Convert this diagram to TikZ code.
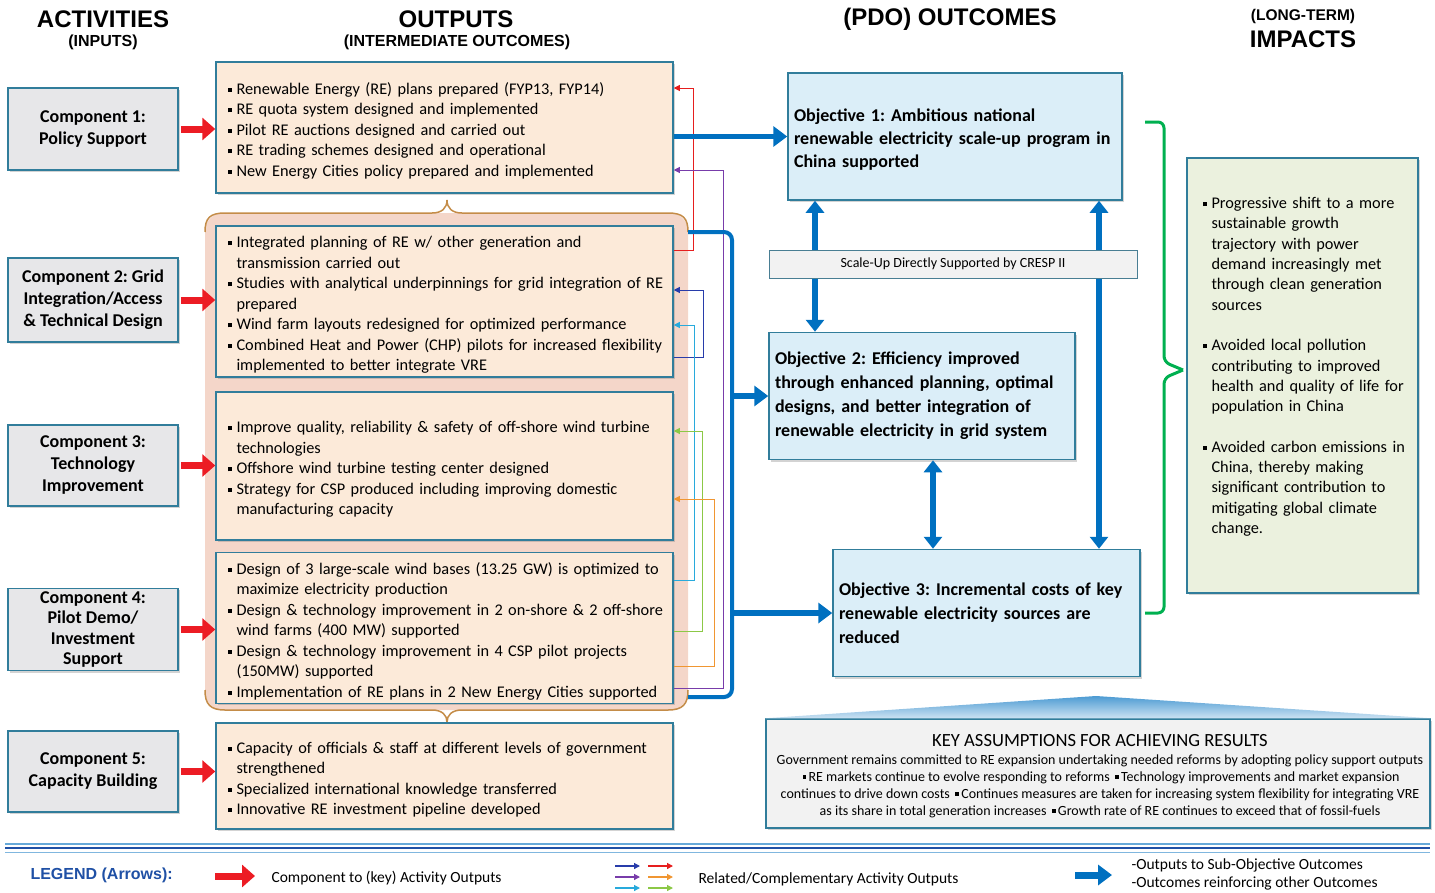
\documentclass[tikz,border=0pt]{standalone}
\usepackage{fontspec}
\setmainfont{Carlito}
\newfontfamily\headfont{Liberation Sans}
\newfontfamily\outfont{Carlito}[WordSpace=1.7]
\usetikzlibrary{arrows.meta,shadows,positioning,calc}

\definecolor{boxline}{RGB}{49,125,155}
\definecolor{compfill}{RGB}{231,231,233}
\definecolor{outfill}{RGB}{252,234,217}
\definecolor{grpfill}{RGB}{244,214,201}
\definecolor{bracebrown}{RGB}{196,140,72}
\definecolor{objfill}{RGB}{219,238,248}
\definecolor{mainblue}{RGB}{0,112,192}
\definecolor{arrred}{RGB}{236,28,36}
\definecolor{impfill}{RGB}{235,241,222}
\definecolor{bracegreen}{RGB}{0,176,80}
\definecolor{asmfill}{RGB}{242,242,242}
\definecolor{legblue}{RGB}{31,80,165}
\definecolor{lnkred}{RGB}{230,30,30}
\definecolor{lnkpurple}{RGB}{120,60,170}
\definecolor{lnknavy}{RGB}{40,60,170}
\definecolor{lnkcyan}{RGB}{40,170,220}
\definecolor{lnkgreen}{RGB}{140,200,70}
\definecolor{lnkorange}{RGB}{240,150,50}

\newcommand{\outitem}[1]{\hspace*{8pt}\makebox[9pt][l]{\rule[2.5pt]{4pt}{4pt}}#1}
\newcommand{\outcont}[1]{\hspace*{17pt}#1}
\newcommand{\firstln}{\rule{0pt}{18.5pt}}
\newcommand{\sqb}{\,\rule[2.5pt]{3.5pt}{3.5pt}\,}
\frenchspacing

\begin{document}
\begin{tikzpicture}
  [x=1pt,y=-1pt,
   boxshadow/.style={drop shadow={opacity=0.35,shadow xshift=2pt,shadow yshift=-2pt}},
   comp/.style={draw=boxline,line width=1.5pt,fill=compfill,boxshadow,minimum width=170pt,align=center,font=\bfseries\fontsize{18}{22}\selectfont},
   outbox/.style={draw=boxline,line width=1.5pt,fill=outfill,boxshadow,align=left,text width=450pt,inner xsep=3.5pt,font=\outfont\fontsize{16.3}{20.5}\selectfont},
   objbox/.style={draw=boxline,line width=1.5pt,fill=objfill,boxshadow,align=left,inner xsep=6pt,minimum height=127pt,font=\bfseries\fontsize{18}{24}\selectfont},
   head/.style={font=\headfont\bfseries\fontsize{24}{24}\selectfont},
   subhead/.style={font=\headfont\bfseries\fontsize{16}{16}\selectfont},
   redarr/.style={draw=arrred,line width=7pt,-{Triangle[length=13pt,width=22pt]}},
   bluearr/.style={draw=mainblue,line width=5.5pt,-{Triangle[length=14pt,width=20pt]}},
   dblarr/.style={draw=mainblue,line width=5.5pt,{Triangle[length=12pt,width=18pt]}-{Triangle[length=12pt,width=18pt]}},
   lnk/.style={line width=0.9pt,-{Triangle[length=6pt,width=6pt]}}]

  \useasboundingbox (0,0) rectangle (1435,892);

  % headings
  \node[head] (hAct) at (103,19) {ACTIVITIES};
  \node[subhead] (hIn) at (103,42) {(INPUTS)};
  \node[head] (hOut) at (456,19) {OUTPUTS};
  \node[subhead] (hInt) at (457,42) {(INTERMEDIATE OUTCOMES)};
  \node[head] (hPdo) at (950,19) {(PDO) OUTCOMES};
  \node[subhead,font=\headfont\bfseries\fontsize{15.5}{15.5}\selectfont] (hLt) at (1303,16) {(LONG-TERM)};
  \node[head] (hImp) at (1303,39) {IMPACTS};

  % group behind outputs 2-4
  \node[fill=grpfill,rounded corners=18pt,minimum width=483pt,minimum height=497pt] (G) at (446.5,461.5) {};
  \draw[bracebrown,line width=1.5pt] (205,232) .. controls (205,218) and (210,213) .. (225,213) -- (432,213)
    .. controls (442,213) and (447,208) .. (447,200) .. controls (447,208) and (452,213) .. (462,213)
    -- (668,213) .. controls (683,213) and (688,218) .. (688,232);
  \draw[bracebrown,line width=1.5pt] (205,690) .. controls (205,704) and (210,710) .. (225,710) -- (432,710)
    .. controls (442,710) and (447,715) .. (447,722) .. controls (447,715) and (452,710) .. (462,710)
    -- (668,710) .. controls (683,710) and (688,704) .. (688,690);

  % outputs
  \node[outbox,minimum height=131pt] (O1) at (444.5,127.5) {%
    \firstln\outitem{Renewable Energy (RE) plans prepared (FYP13, FYP14)}\\
    \outitem{RE quota system designed and implemented}\\
    \outitem{Pilot RE auctions designed and carried out}\\
    \outitem{RE trading schemes designed and operational}\\
    \outitem{New Energy Cities policy prepared and implemented}};
  \node[outbox,minimum height=141pt] (O2) at (444.5,301.5) {%
    \firstln\outitem{Integrated planning of RE w/ other generation and}\\
    \outcont{transmission carried out}\\
    \outitem{Studies with analytical underpinnings for grid integration of RE}\\
    \outcont{prepared}\\
    \outitem{Wind farm layouts redesigned for optimized performance}\\
    \outitem{Combined Heat and Power (CHP) pilots for increased flexibility}\\
    \outcont{implemented to better integrate VRE}};
  \node[outbox,minimum height=148pt] (O3) at (444.5,466) {%
    \firstln\outitem{Improve quality, reliability \& safety of off-shore wind turbine}\\
    \outcont{technologies}\\
    \outitem{Offshore wind turbine testing center designed}\\
    \outitem{Strategy for CSP produced including improving domestic}\\
    \outcont{manufacturing capacity}};
  \node[outbox,minimum height=148pt] (O4) at (444.5,628) {%
    \firstln\outitem{Design of 3 large-scale wind bases (13.25 GW) is optimized to}\\
    \outcont{maximize electricity production}\\
    \outitem{Design \& technology improvement in 2 on-shore \& 2 off-shore}\\
    \outcont{wind farms (400 MW) supported}\\
    \outitem{Design \& technology improvement in 4 CSP pilot projects}\\
    \outcont{(150MW) supported}\\
    \outitem{Implementation of RE plans in 2 New Energy Cities supported}};
  \node[outbox,minimum height=106pt] (O5) at (444.5,776) {%
    \firstln\outitem{Capacity of officials \& staff at different levels of government}\\
    \outcont{strengthened}\\
    \outitem{Specialized international knowledge transferred}\\
    \outitem{Innovative RE investment pipeline developed}};

  % components
  \node[comp,minimum height=82pt] (C1) at (93,129) {Component 1:\\Policy Support};
  \node[comp,minimum height=84pt] (C2) at (93,300) {Component 2: Grid\\Integration/Access\\\& Technical Design};
  \node[comp,minimum height=81pt] (C3) at (93,465.5) {Component 3:\\Technology\\Improvement};
  \node[comp,minimum height=79pt,font=\bfseries\fontsize{18}{20.3}\selectfont] (C4) at (93,629.5) {Component 4:\\Pilot Demo/\\Investment\\Support};
  \node[comp,minimum height=81pt] (C5) at (93,771.5) {Component 5:\\Capacity Building};

  \draw[redarr,shorten <=2pt] (C1.east) -- (C1.east -| O1.west);
  \draw[redarr,shorten <=2pt] (C2.east) -- (C2.east -| O2.west);
  \draw[redarr,shorten <=2pt] (C3.east) -- (C3.east -| O3.west);
  \draw[redarr,shorten <=2pt] (C4.east) -- (C4.east -| O4.west);
  \draw[redarr,shorten <=2pt] (C5.east) -- (C5.east -| O5.west);

  % related outputs
  \draw[lnk,lnkred] (O2.east |- 0,250) -- ++(20,0) |- (O1.east |- 0,88);
  \draw[lnk,lnkpurple] (O4.east |- 0,688) -- ++(50,0) |- (O1.east |- 0,170);
  \draw[lnk,lnknavy] (O2.east |- 0,357) -- ++(30,0) |- (O2.east |- 0,290);
  \draw[lnk,lnkcyan] (O4.east |- 0,580) -- ++(21,0) |- (O2.east |- 0,325);
  \draw[lnk,lnkgreen] (O4.east |- 0,631) -- ++(29,0) |- (O3.east |- 0,431);
  \draw[lnk,lnkorange] (O4.east |- 0,666) -- ++(41,0) |- (O3.east |- 0,499);

  % objectives
  \node[objbox,text width=322pt,font=\bfseries\fontsize{18}{23}\selectfont] (Ob1) at (955,136.5) {\rule{0pt}{19pt}Objective 1: Ambitious national\\renewable electricity scale-up program in\\China supported};
  \node[objbox,text width=294pt] (Ob2) at (922,396) {Objective 2: Efficiency improved\\through enhanced planning, optimal\\designs, and better integration of\\renewable electricity in grid system};
  \node[objbox,text width=295pt] (Ob3) at (986.5,613) {Objective 3: Incremental costs of key\\renewable electricity sources are\\reduced};

  \coordinate (bxT) at (688,232);
  \coordinate (bxB) at (688,697);
  \coordinate (bx) at (732,0);
  \draw[mainblue,line width=4pt,rounded corners=8pt] (bxT) -- (bxT -| bx) -- (bxB -| bx) -- (bxB);
  \draw[bluearr] (Ob1.west -| O1.east) -- (Ob1.west);
  \draw[bluearr] (Ob2.west -| bx) -- (Ob2.west);
  \draw[bluearr] (Ob3.west -| bx) -- (Ob3.west);

  \coordinate (vA) at (815,0);
  \coordinate (vB) at (933,0);
  \coordinate (vC) at (1099,0);
  \draw[dblarr] (Ob1.south -| vA) -- (Ob2.north -| vA);
  \draw[dblarr] (Ob2.south -| vB) -- (Ob3.north -| vB);
  \draw[dblarr] (Ob1.south -| vC) -- (Ob3.north -| vC);

  \node[draw=boxline!70!gray,line width=1pt,fill=asmfill,minimum width=368pt,minimum height=28pt,font=\fontsize{14}{14}\selectfont] (Su) at (953,264) {Scale-Up Directly Supported by CRESP II};

  % impacts
  \draw[bracegreen,line width=3pt,rounded corners=6pt] (1145,122) -- (1164,122) -- (1164,362) -- (1183,370);
  \draw[bracegreen,line width=3pt,rounded corners=6pt] (1183,370) -- (1164,378) -- (1164,613) -- (1145,613);
  \node[draw=boxline,line width=1.5pt,fill=impfill,boxshadow,minimum width=231pt,minimum height=435pt,text width=216pt,inner xsep=7pt,align=left,font=\outfont\fontsize{16.3}{20.3}\selectfont] (Imp) at (1302.5,375.5) {%
    \outitem{Progressive shift to a more}\\
    \outcont{sustainable growth}\\
    \outcont{trajectory with power}\\
    \outcont{demand increasingly met}\\
    \outcont{through clean generation}\\
    \outcont{sources}\\[20.3pt]
    \outitem{Avoided local pollution}\\
    \outcont{contributing to improved}\\
    \outcont{health and quality of life for}\\
    \outcont{population in China}\\[20.3pt]
    \outitem{Avoided carbon emissions in}\\
    \outcont{China, thereby making}\\
    \outcont{significant contribution to}\\
    \outcont{mitigating global climate}\\
    \outcont{change.}\\
    \mbox{}};

  % key assumptions
  \node[draw=boxline,line width=1.5pt,fill=asmfill,boxshadow,minimum width=664pt,minimum height=109pt] (Ka) at (1098,773.5) {};
  \shade[top color=mainblue!70!white,bottom color=mainblue!20!white] (Ka.north west) -- (1096,696) -- (Ka.north east) -- cycle;
  \node[font=\fontsize{18.6}{18.6}\selectfont] (KaT) at (1100,741) {KEY ASSUMPTIONS FOR ACHIEVING RESULTS};
  \node[align=center,font=\fontsize{14}{17}\selectfont] (KaB) at (1100,786) {%
    Government remains committed to RE expansion undertaking needed reforms by adopting policy support outputs\\
    \sqb RE markets continue to evolve responding to reforms \sqb Technology improvements and market expansion\\
    continues to drive down costs \sqb Continues measures are taken for increasing system flexibility for integrating VRE\\
    as its share in total generation increases \sqb Growth rate of RE continues to exceed that of fossil-fuels};

  % legend
  \coordinate (lnL) at (5,0);
  \coordinate (lnR) at (1430,0);
  \draw[line width=1.5pt,color=mainblue!60!white] (lnL |- 0,844) -- (lnR |- 0,844);
  \draw[line width=2.5pt,color=legblue] (lnL |- 0,848) -- (lnR |- 0,848);
  \draw[line width=1.2pt,color=mainblue!50!white] (lnL |- 0,852.5) -- (lnR |- 0,852.5);

  \node[anchor=west,text=legblue,font=\headfont\bfseries\fontsize{16}{16}\selectfont] (legA) at (27,875) {LEGEND (Arrows):};
  \coordinate (lgR1) at (215,876);
  \coordinate (lgR2) at (255,876);
  \draw[redarr] (lgR1) -- (lgR2);
  \node[anchor=west,font=\fontsize{15.5}{15.5}\selectfont] (legB) at (268,878) {Component to (key) Activity Outputs};
  \foreach \c/\xa/\yy in {lnknavy/615/866,lnkred/648/866,lnkpurple/615/877,lnkorange/648/877,lnkcyan/615/888,lnkgreen/648/888}
    \draw[lnk,\c,line width=1.3pt] (\xa,\yy) -- ++(25,0);
  \node[anchor=west,font=\fontsize{15.5}{15.5}\selectfont] (legC) at (695,879) {Related/Complementary Activity Outputs};
  \coordinate (lgB1) at (1075,875);
  \coordinate (lgB2) at (1112,875);
  \draw[bluearr,line width=7pt] (lgB1) -- (lgB2);
  \node[anchor=west,align=left,font=\fontsize{15.5}{18}\selectfont] (legD) at (1128,874) {-Outputs to Sub-Objective Outcomes\\-Outcomes reinforcing other Outcomes};

\end{tikzpicture}
\end{document}
